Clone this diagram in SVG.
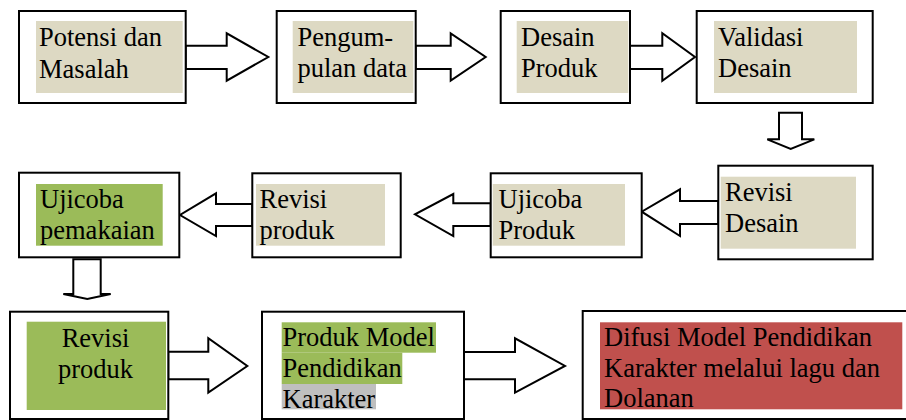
<svg xmlns="http://www.w3.org/2000/svg" width="906" height="420" viewBox="0 0 906 420">
  <style>
    .box { fill: #ffffff; stroke: #000000; stroke-width: 2; }
    .beige { fill: #DDD9C3; }
    .green { fill: #9BBB59; }
    .red { fill: #C0504D; }
    .grey { fill: #BFBFBF; }
    .arrow { fill: #ffffff; stroke: #000000; stroke-width: 2; stroke-linejoin: miter; }
    text { font-family: "Liberation Serif", "Times New Roman", serif; font-size: 26.5px; fill: #000000; }
    .mid { text-anchor: middle; }
  </style>

  <rect width="906" height="420" fill="#ffffff"/>

  <!-- connectors: block arrows between stages -->
  <g id="connectors">
    <polygon class="arrow" points="185.7,45.7 226.7,45.7 226.7,33.3 268.3,57 226.7,80.7 226.7,69 185.7,69"/>
    <polygon class="arrow" points="415.7,45.7 450.7,45.7 450.7,33.3 485.7,57 450.7,80.7 450.7,69 415.7,69"/>
    <polygon class="arrow" points="630,45.7 662.3,45.7 662.3,33.3 695,57 662.3,80.7 662.3,69 630,69"/>
    <polygon class="arrow" points="779,112.7 802,112.7 802,139.3 814.3,139.3 790.7,149 767.3,139.3 779,139.3"/>
    <polygon class="arrow" points="718.3,201 680,201 680,189.3 641.7,211.7 680,236 680,224 718.3,224"/>
    <polygon class="arrow" points="490.7,203.3 453.3,203.3 453.3,194 415,214.3 453.3,236 453.3,226 490.7,226"/>
    <polygon class="arrow" points="252.3,204 216,204 216,193.3 180,215 216,236 216,226 252.3,226"/>
    <polygon class="arrow" points="73.3,259.3 100.7,259.3 100.7,294 110.7,294 87.3,299 63.3,294 73.3,294"/>
    <polygon class="arrow" points="168.3,351.7 208.3,351.7 208.3,338.3 247.3,366 208.3,392.7 208.3,379.3 168.3,379.3"/>
    <polygon class="arrow" points="464,352 515,352 515,338.3 565,366 515,392.7 515,379.3 464,379.3"/>
  </g>

  <g id="potensi-masalah">
    <rect class="box" x="19" y="11" width="166.7" height="92"/>
    <rect class="beige" x="36" y="21" width="146.7" height="72"/>
    <text x="39" y="46">Potensi dan</text>
    <text x="39" y="78">Masalah</text>
  </g>

  <g id="pengumpulan-data">
    <rect class="box" x="276.7" y="11" width="139" height="92"/>
    <rect class="beige" x="292.7" y="21" width="120.6" height="72"/>
    <text x="297.5" y="46">Pengum-</text>
    <text x="297.5" y="77">pulan data</text>
  </g>

  <g id="desain-produk">
    <rect class="box" x="500.7" y="11" width="129.3" height="92"/>
    <rect class="beige" x="516.7" y="21" width="111.6" height="72"/>
    <text x="521" y="46">Desain</text>
    <text x="521" y="77">Produk</text>
  </g>

  <g id="validasi-desain">
    <rect class="box" x="696.7" y="11" width="176" height="92"/>
    <rect class="beige" x="714" y="21" width="143" height="72"/>
    <text x="718" y="46">Validasi</text>
    <text x="718" y="77">Desain</text>
  </g>

  <g id="revisi-desain">
    <rect class="box" x="718.3" y="165.7" width="154.4" height="93.6"/>
    <rect class="beige" x="720.7" y="176.7" width="135.3" height="72"/>
    <text x="725" y="201">Revisi</text>
    <text x="725" y="231.7">Desain</text>
  </g>

  <g id="ujicoba-produk">
    <rect class="box" x="490.7" y="173.3" width="151" height="84"/>
    <rect class="beige" x="492.7" y="184" width="132.3" height="61.7"/>
    <text x="498.5" y="208.3">Ujicoba</text>
    <text x="498.5" y="239.3">Produk</text>
  </g>

  <g id="revisi-produk-1">
    <rect class="box" x="252.3" y="173.3" width="148.4" height="84"/>
    <rect class="beige" x="256" y="184" width="129" height="61.7"/>
    <text x="259.5" y="208.3">Revisi</text>
    <text x="259.5" y="239.3">produk</text>
  </g>

  <g id="ujicoba-pemakaian">
    <rect class="box" x="19" y="172.7" width="160.3" height="84.6"/>
    <rect class="green" x="36" y="184" width="126.7" height="61.7"/>
    <text x="40" y="208.3">Ujicoba</text>
    <text x="40" y="239.3">pemakaian</text>
  </g>

  <g id="revisi-produk-2">
    <rect class="box" x="10" y="311.7" width="158.3" height="107.3"/>
    <rect class="green" x="26.7" y="321.7" width="139.3" height="88.3"/>
    <text class="mid" x="95.5" y="346.7">Revisi</text>
    <text class="mid" x="95.5" y="377.7">produk</text>
  </g>

  <g id="produk-model">
    <rect class="box" x="262" y="311.7" width="202" height="107.3"/>
    <rect class="green" x="281.7" y="322.3" width="154.3" height="30.4"/>
    <rect class="green" x="281.7" y="352.7" width="120.6" height="31.3"/>
    <rect class="grey" x="281.7" y="384" width="94.3" height="25.3"/>
    <text x="282.5" y="346">Produk Model</text>
    <text x="282.5" y="377">Pendidikan</text>
    <text x="282.5" y="407.5">Karakter</text>
  </g>

  <g id="difusi-model">
    <rect class="box" x="582.7" y="311" width="330" height="108"/>
    <rect class="red" x="600" y="322.3" width="302.3" height="87"/>
    <text x="604" y="346">Difusi Model Pendidikan</text>
    <text x="604" y="376.5">Karakter melalui lagu dan</text>
    <text x="604" y="407">Dolanan</text>
  </g>
</svg>
